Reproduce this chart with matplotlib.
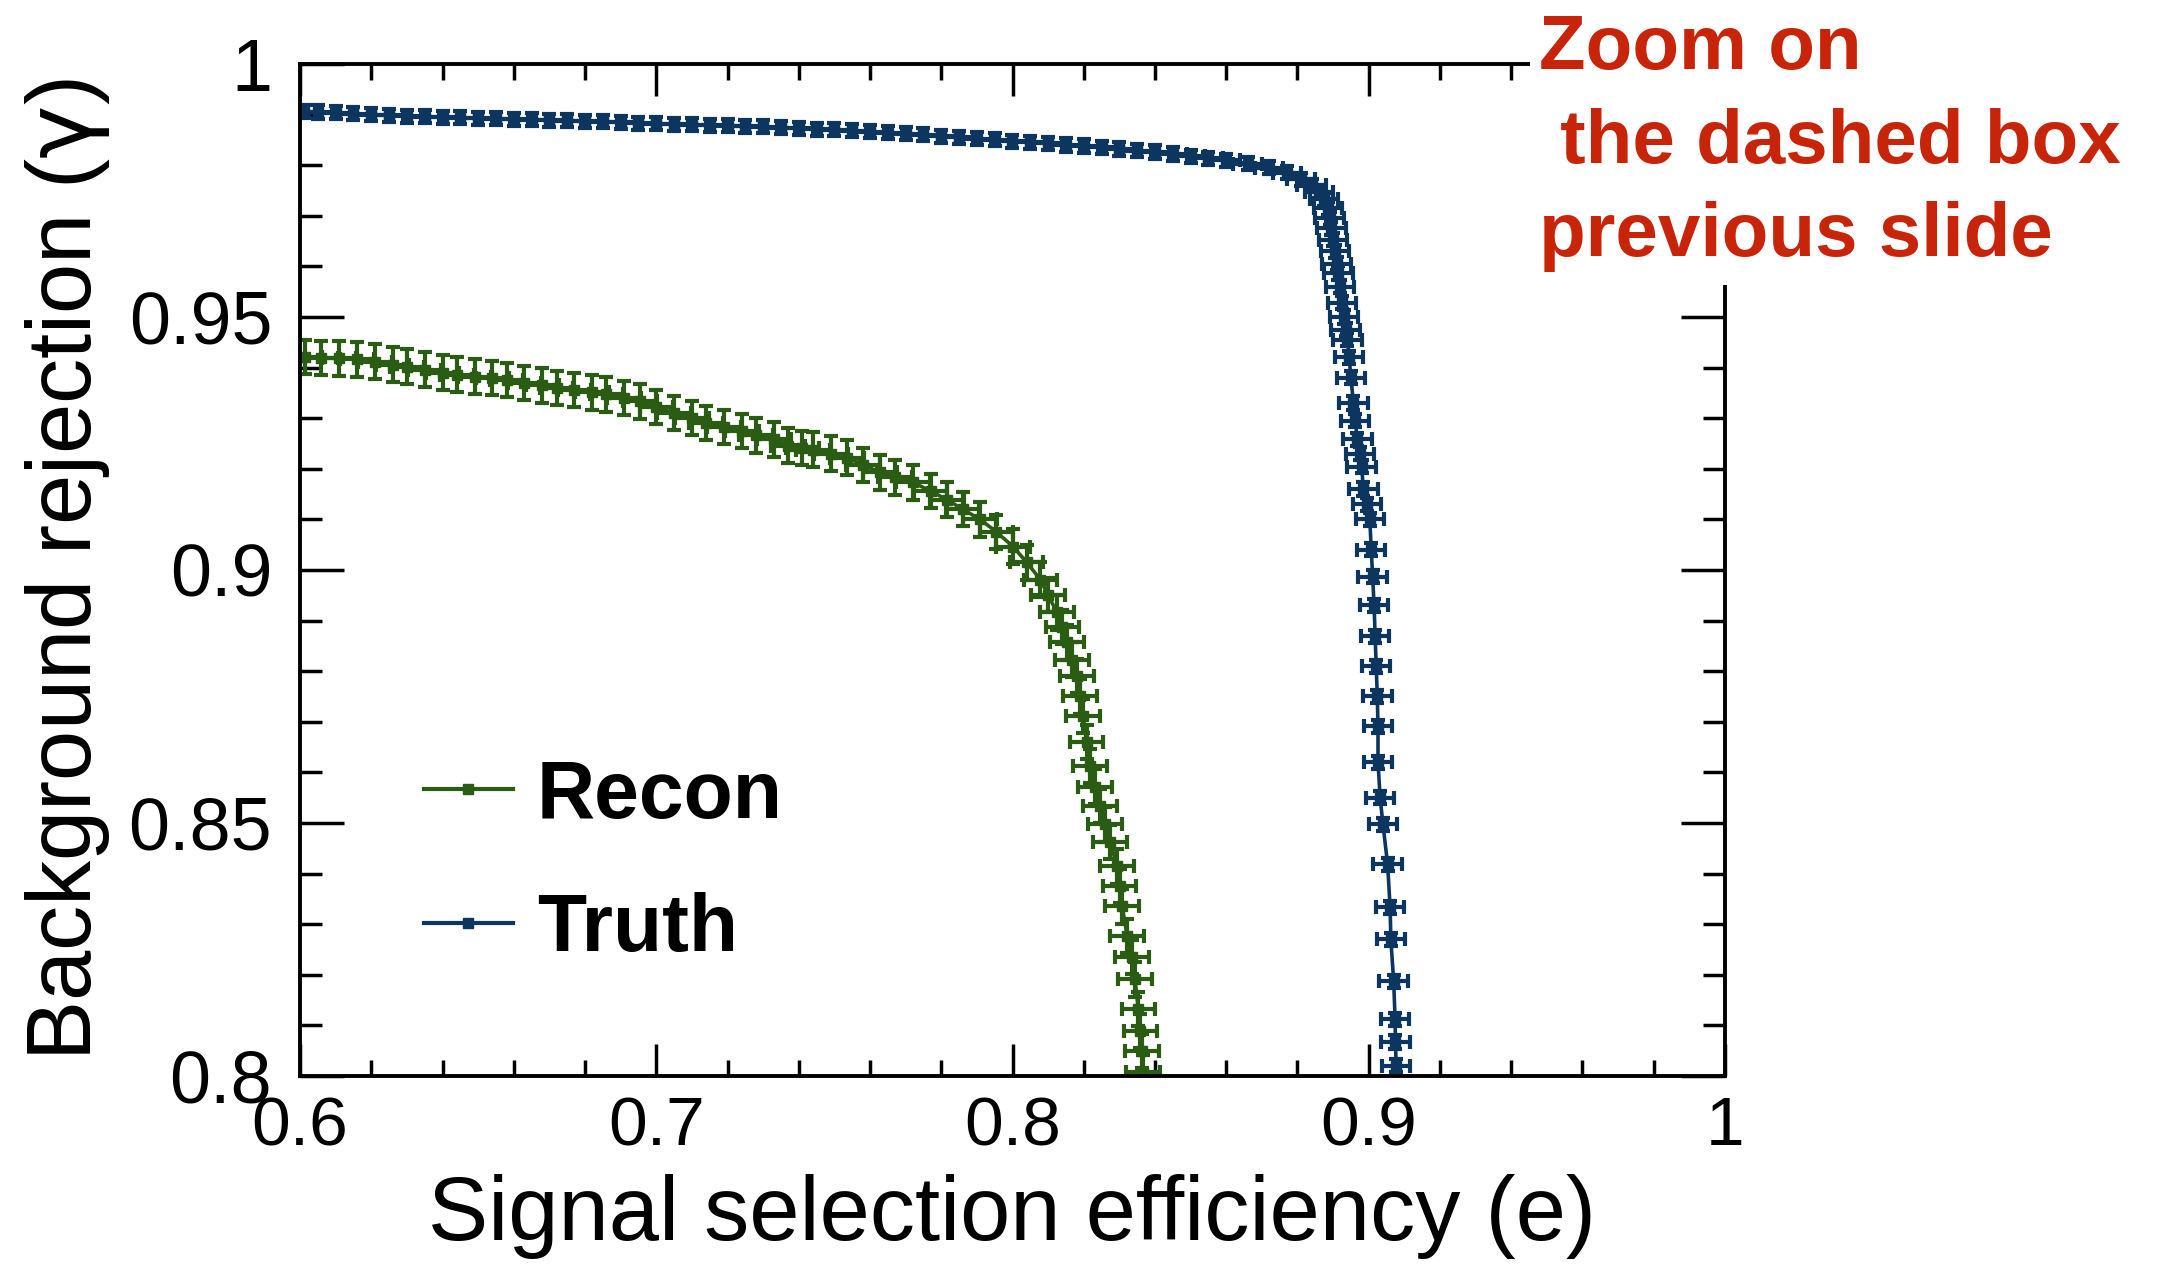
import matplotlib
matplotlib.use('Agg')
import matplotlib.pyplot as plt
from matplotlib.lines import Line2D
from matplotlib.patches import Rectangle
from matplotlib.ticker import MultipleLocator, FuncFormatter

plt.rcParams['font.family'] = ['Liberation Sans', 'DejaVu Sans']
plt.rcParams['mathtext.fontset'] = 'dejavusans'

# ROC points
truth_eff = [0.601, 0.605, 0.610, 0.615, 0.620, 0.625, 0.630, 0.635, 0.640, 0.645,
             0.650, 0.655, 0.660, 0.665, 0.670, 0.675, 0.680, 0.685, 0.690, 0.695,
             0.700, 0.705, 0.710, 0.715, 0.720, 0.725, 0.730, 0.735, 0.740, 0.745,
             0.750, 0.755, 0.760, 0.765, 0.770, 0.775, 0.780, 0.785, 0.790, 0.795,
             0.800, 0.805, 0.810, 0.815, 0.820, 0.825, 0.830, 0.835, 0.840, 0.845,
             0.850, 0.855, 0.860, 0.866, 0.872, 0.877, 0.881, 0.884, 0.886, 0.8875,
             0.8885, 0.889, 0.8895, 0.890, 0.8905, 0.891, 0.8915, 0.892, 0.8925, 0.893,
             0.8935, 0.894, 0.8945, 0.895, 0.8957, 0.8962, 0.8968, 0.8975, 0.898, 0.8985,
             0.8995, 0.9003, 0.9007, 0.9011, 0.9015, 0.9018, 0.9021, 0.9024, 0.9026, 0.9026,
             0.9032, 0.904, 0.9053, 0.906, 0.9062, 0.907, 0.9074, 0.9075, 0.9077]
truth_rej = [0.9906, 0.9905, 0.9904, 0.9902, 0.9900, 0.9899, 0.9897, 0.9896, 0.9895, 0.9894,
             0.9893, 0.9892, 0.9891, 0.9890, 0.9889, 0.9888, 0.9887, 0.9886, 0.9885, 0.9883,
             0.9882, 0.9881, 0.9880, 0.9879, 0.9878, 0.9877, 0.9876, 0.9874, 0.9873, 0.9871,
             0.9870, 0.9868, 0.9866, 0.9864, 0.9862, 0.9860, 0.9857, 0.9855, 0.9852, 0.9850,
             0.9847, 0.9845, 0.9843, 0.9840, 0.9838, 0.9835, 0.9832, 0.9829, 0.9826, 0.9822,
             0.9818, 0.9814, 0.9810, 0.9803, 0.9795, 0.9785, 0.9772, 0.9760, 0.9748, 0.9733,
             0.9715, 0.9695, 0.9675, 0.9653, 0.9630, 0.9605, 0.9587, 0.9560, 0.9528, 0.9500,
             0.9475, 0.9455, 0.9420, 0.9380, 0.9330, 0.9295, 0.9258, 0.9230, 0.9204, 0.9160,
             0.9130, 0.9100, 0.9040, 0.8987, 0.8930, 0.8869, 0.8810, 0.8750, 0.8691, 0.8620,
             0.8550, 0.8497, 0.8418, 0.8333, 0.8270, 0.8187, 0.8112, 0.8067, 0.8020]

recon_eff = [0.6015, 0.606, 0.611, 0.616, 0.621, 0.626, 0.630, 0.635, 0.640, 0.644,
             0.649, 0.654, 0.658, 0.663, 0.668, 0.672, 0.677, 0.682, 0.686, 0.691,
             0.6955, 0.700, 0.705, 0.710, 0.714, 0.719, 0.724, 0.728, 0.733, 0.737,
             0.741, 0.744, 0.749, 0.7536, 0.758, 0.7628, 0.767, 0.7721, 0.777, 0.7816,
             0.786, 0.7909, 0.7955, 0.8002, 0.804, 0.8078, 0.810, 0.8125, 0.814, 0.8153,
             0.8167, 0.8181, 0.819, 0.8198, 0.8208, 0.8218, 0.8232, 0.8246, 0.826, 0.8274,
             0.8294, 0.8301, 0.8308, 0.8322, 0.8336, 0.8344, 0.8353, 0.8359, 0.8364, 0.8367]
recon_rej = [0.9421, 0.9419, 0.9418, 0.9416, 0.9412, 0.9406, 0.9402, 0.9396, 0.9390, 0.9386,
             0.9382, 0.9379, 0.9376, 0.9370, 0.9365, 0.9360, 0.9356, 0.9351, 0.9347, 0.9340,
             0.9333, 0.9322, 0.9310, 0.9300, 0.9291, 0.9283, 0.9275, 0.9266, 0.9258, 0.9246,
             0.9241, 0.9238, 0.9230, 0.9222, 0.9208, 0.9193, 0.9183, 0.9173, 0.9156, 0.9139,
             0.9120, 0.9100, 0.9075, 0.9046, 0.9015, 0.8981, 0.8950, 0.8916, 0.8887, 0.8857,
             0.8823, 0.8790, 0.8750, 0.8711, 0.8660, 0.8612, 0.8572, 0.8533, 0.8497, 0.8462,
             0.8414, 0.8375, 0.8335, 0.8276, 0.8235, 0.8191, 0.8132, 0.8089, 0.8049, 0.8008]

truth_eff_err = 0.0040
truth_rej_err = 0.0013
recon_eff_err = 0.0047
recon_rej_err = 0.0034

labels = ['Recon', 'Truth']
green = '#2a5d13'
blue = '#0c355f'
red = '#c8240a'

fig = plt.figure(figsize=(21.6, 12.7), dpi=100)
ax = fig.add_axes([0.1389, 0.1528, 0.6597, 0.7968])

ax.errorbar(recon_eff, recon_rej, xerr=recon_eff_err, yerr=recon_rej_err, fmt='s-',
            color=green, ms=7, lw=2.6, elinewidth=3, capsize=5, capthick=3)
ax.errorbar(truth_eff, truth_rej, xerr=truth_eff_err, yerr=truth_rej_err, fmt='s-',
            color=blue, ms=7, lw=2.6, elinewidth=3, capsize=5, capthick=3)

ax.set_xlim(0.6, 1.0)
ax.set_ylim(0.8, 1.0)
ax.xaxis.set_major_locator(MultipleLocator(0.1))
ax.xaxis.set_minor_locator(MultipleLocator(0.02))
ax.yaxis.set_major_locator(MultipleLocator(0.05))
ax.yaxis.set_minor_locator(MultipleLocator(0.01))
fmt = FuncFormatter(lambda v, p: f'{v:g}')
ax.xaxis.set_major_formatter(fmt)
ax.yaxis.set_major_formatter(fmt)

ax.tick_params(which='both', direction='in', top=True, right=True, width=2.5)
ax.tick_params(axis='x', which='major', length=23, labelsize=50, pad=14)
ax.tick_params(axis='x', which='minor', length=11.5)
ax.tick_params(axis='y', which='major', length=31.5, labelsize=53, pad=20)
ax.tick_params(axis='y', which='minor', length=16)
for s in ax.spines.values():
    s.set_linewidth(2.8)

ax.set_xlabel('Signal selection efficiency (e)', fontsize=65)
ax.xaxis.set_label_coords(0.5, -0.162)
ax.xaxis.label.set_va('baseline')
ax.set_ylabel(r'Background rejection ($\mathrm{\gamma}$)', fontsize=65)
ax.yaxis.set_label_coords(-0.147, 0.5)
ax.yaxis.label.set_va('baseline')

handles = [Line2D([], [], color=green, lw=3, marker='s', ms=7),
           Line2D([], [], color=blue, lw=3, marker='s', ms=7)]
ax.legend(handles, labels, loc='center left', bbox_to_anchor=(0.087, 0.2103),
          frameon=False, prop={'size': 58, 'weight': 'bold'}, handlelength=1.1,
          handletextpad=0.3, labelspacing=0.71, borderpad=0, borderaxespad=0)

# note pasted over the top-right corner of the frame
fig.patches.append(Rectangle((1530 / 2160, 1 - 285 / 1270), 1 - 1530 / 2160, 285 / 1270,
                             transform=fig.transFigure, facecolor='white',
                             edgecolor='none', zorder=2))
for txt, ypx in [('Zoom on', 69), (' the dashed box', 163), ('previous slide', 256)]:
    fig.text(1539 / 2160, 1 - ypx / 1270, txt, color=red, fontsize=55,
             fontweight='bold', va='baseline', zorder=3)

fig.savefig('out.png', dpi=100)
